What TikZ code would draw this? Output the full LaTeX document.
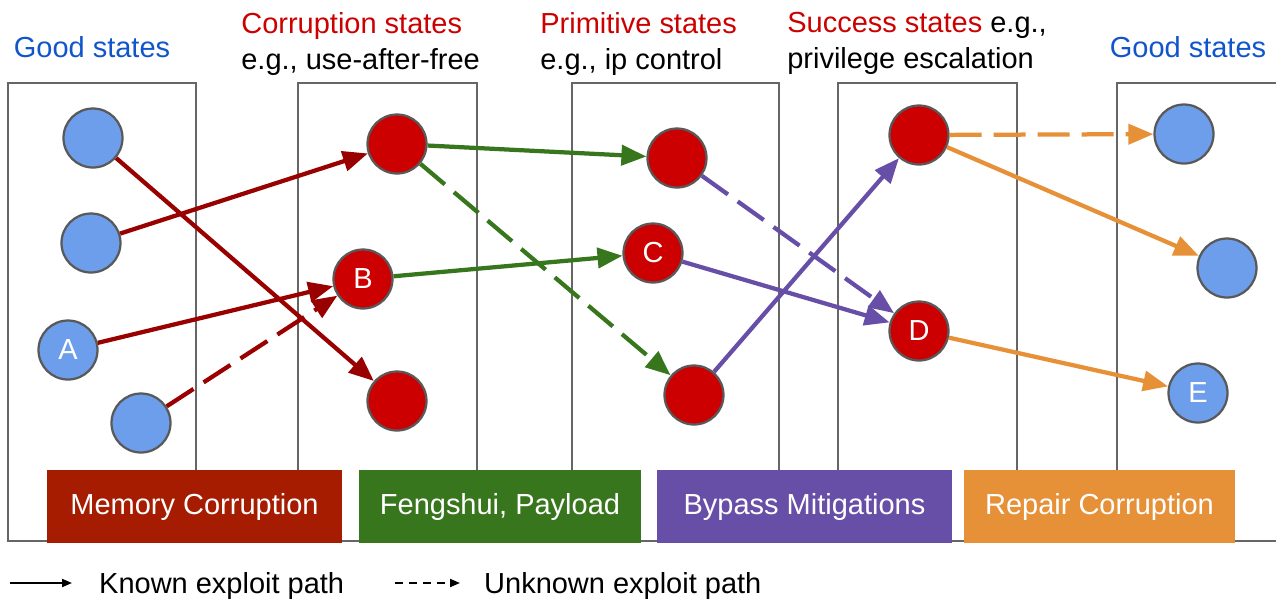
\documentclass[tikz,border=0pt]{standalone}
\usepackage{fontspec}
\setmainfont{Liberation Sans}
\usepackage{xcolor}
\usepackage{tikz}
\usetikzlibrary{arrows.meta, positioning, calc}
\definecolor{goodblue}{HTML}{6D9EEB}
\definecolor{badred}{HTML}{CC0000}
\definecolor{headblue}{HTML}{1155CC}
\definecolor{rimgray}{HTML}{595959}
\definecolor{boxgray}{HTML}{666666}
\definecolor{memline}{HTML}{990000}
\definecolor{membar}{HTML}{A61C00}
\definecolor{fengshui}{HTML}{38761D}
\definecolor{bypass}{HTML}{674EA7}
\definecolor{repair}{HTML}{E69138}

\begin{document}
\begin{tikzpicture}[x=0.02cm, y=-0.02cm,
    font=\fontsize{16.5}{20.4}\selectfont,
    good/.style={circle, draw=rimgray, line width=0.045cm, fill=goodblue, minimum size=1.18cm, inner sep=0pt, text=white},
    bad/.style={circle, draw=rimgray, line width=0.045cm, fill=badred, minimum size=1.18cm, inner sep=0pt, text=white},
    colbox/.style={draw=boxgray, line width=0.04cm},
    phase/.style={minimum height=1.46cm, inner sep=0pt, text=white},
    path/.style={line width=0.085cm, -{Triangle[length=0.5cm, width=0.4cm]}},
    unknown/.style={dash pattern=on 0.64cm off 0.24cm},
    head/.style={anchor=north west, align=left, inner sep=0pt},
    keyline/.style={line width=0.04cm, -{Triangle[length=0.2cm, width=0.16cm]}}]
    \useasboundingbox (0,0) rectangle (1276,600);

    % columns
    \draw[colbox] (8,83) rectangle (196,541);
    \draw[colbox] (298,83) rectangle (477,541);
    \draw[colbox] (572,83) rectangle (779,541);
    \draw[colbox] (838,83) rectangle (1017,541);
    \draw[colbox] (1117,83) rectangle (1278,541);

    % phases
    \node[phase, fill=membar, minimum width=5.9cm] (mem) at (194.5,506.5) {Memory Corruption};
    \node[phase, fill=fengshui, minimum width=5.64cm] (feng) at (500,506.5) {Fengshui, Payload};
    \node[phase, fill=bypass, minimum width=5.9cm] (byp) at (804.5,506.5) {Bypass Mitigations};
    \node[phase, fill=repair, minimum width=5.42cm] (rep) at (1099.5,506.5) {Repair Corruption};

    % headings
    \node[anchor=base, text=headblue] (hgood) at (92,57) {Good states};
    \node[head] (hcorr) at (241,12) {\textcolor{badred}{Corruption states}\\e.g., use-after-free};
    \node[head] (hprim) at (540,12) {\textcolor{badred}{Primitive states}\\e.g., ip control};
    \node[head] (hsucc) at (787,12) {\textcolor{badred}{Success states} e.g.,\\privilege escalation};
    \node[anchor=base, text=headblue] (hgood2) at (1188,57) {Good states};

    % states
    \node[good] (L1) at (93,138) {};
    \node[good] (L2) at (91,243) {};
    \node[good] (L3) at (68,350) {A};
    \node[good] (L4) at (141,423) {};
    \node[bad] (C1) at (397,144) {};
    \node[bad] (C2) at (363,279) {B};
    \node[bad] (C3) at (397,401) {};
    \node[bad] (P1) at (677,158) {};
    \node[bad] (P2) at (653,253) {C};
    \node[bad] (P3) at (694,395) {};
    \node[bad] (S1) at (919,135) {};
    \node[bad] (S2) at (919,331) {D};
    \node[good] (R1) at (1184,134) {};
    \node[good] (R2) at (1227,268) {};
    \node[good] (R3) at (1198,393) {E};

    % memory corruption
    \draw[path, memline] (L1) -- (C3);
    \draw[path, memline] (L2) -- (C1);
    \draw[path, memline] (L3) -- (C2);
    \draw[path, memline, unknown] (L4) -- (C2);

    % fengshui
    \draw[path, fengshui] (C1) -- (P1);
    \draw[path, fengshui] (C2) -- (P2);
    \draw[path, fengshui, unknown] (C1) -- (P3);

    % bypass
    \draw[path, bypass, unknown] (P1) -- (S2);
    \draw[path, bypass] (P2) -- (S2);
    \draw[path, bypass] (P3) -- (S1);

    % repair
    \draw[path, repair, unknown] (S1) -- (R1);
    \draw[path, repair] (S1) -- (R2);
    \draw[path, repair] (S2) -- (R3);

    % legend
    \coordinate (k1) at (10,583);
    \coordinate (k2) at (72,583);
    \coordinate (u1) at (395,583);
    \coordinate (u2) at (460,583);
    \draw[keyline] (k1) -- (k2);
    \node[anchor=base west] (known) at (93,593) {Known exploit path};
    \draw[keyline, dash pattern=on 0.16cm off 0.12cm] (u1) -- (u2);
    \node[anchor=base west] (unkn) at (478,593) {Unknown exploit path};
\end{tikzpicture}
\end{document}
